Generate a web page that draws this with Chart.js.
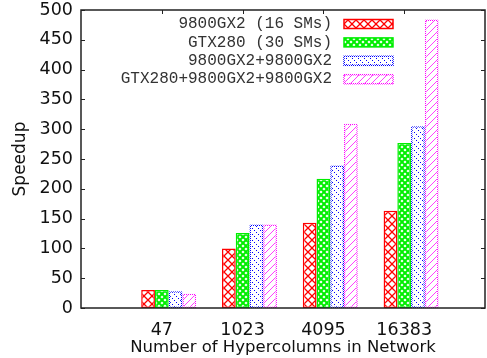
<!DOCTYPE html>
<html>
<head>
<meta charset="utf-8">
<script src="https://cdn.jsdelivr.net/npm/chart.js@4"></script>
<style>
  html, body { margin: 0; padding: 0; background: #fff; }
  canvas { display: block; }
</style>
</head>
<body>
<canvas id="chart" width="487" height="358"></canvas>
<script>
// gnuplot style: an empty slot on each side of the four network sizes
const categories = ['', '47', '1023', '4095', '16383', ''];
const seriesNames = [
    '9800GX2 (16 SMs)',
    'GTX280 (30 SMs)',
    '9800GX2+9800GX2',
    'GTX280+9800GX2+9800GX2'
];
const gx2Single = [null, 30, 100, 143, 163, null];
const gtx280 = [null, 30, 126, 217, 277, null];
const gx2Pair = [null, 28, 140, 239, 305, null];
const allThree = [null, 24, 140, 309, 484, null];

function makePattern(size, draw) {
    const c = document.createElement('canvas');
    c.width = size;
    c.height = size;
    const g = c.getContext('2d');
    draw(g, size);
    return g.createPattern(c, 'repeat');
}

const redHatch = makePattern(8, (g, s) => {
    g.fillStyle = '#fff';
    g.fillRect(0, 0, s, s);
    g.strokeStyle = '#ff0000';
    g.lineWidth = 1.3;
    g.beginPath();
    g.moveTo(0, 0); g.lineTo(s, s);
    g.moveTo(s, 0); g.lineTo(0, s);
    g.stroke();
});
const greenHatch = makePattern(6, (g, s) => {
    g.fillStyle = '#fff';
    g.fillRect(0, 0, s, s);
    g.strokeStyle = '#00ee00';
    g.lineWidth = 2;
    g.beginPath();
    g.moveTo(0, 0); g.lineTo(s, s);
    g.moveTo(s, 0); g.lineTo(0, s);
    g.stroke();
    g.fillStyle = '#00ee00';
    g.fillRect(0, 0, 1, 1);
});
const blueHatch = makePattern(6, (g, s) => {
    g.fillStyle = '#fff';
    g.fillRect(0, 0, s, s);
    g.fillStyle = '#0000ff';
    for (let i = 0; i < s; i += 2) g.fillRect(i, i, 1, 1);
});
const magentaHatch = makePattern(7, (g, s) => {
    g.fillStyle = '#fff';
    g.fillRect(0, 0, s, s);
    g.strokeStyle = 'rgba(255, 0, 255, 0.75)';
    g.lineWidth = 1;
    g.beginPath();
    g.moveTo(0, s); g.lineTo(s, 0);
    g.stroke();
});
const dotted = color => makePattern(2, (g) => {
    g.fillStyle = color;
    g.fillRect(0, 0, 1, 1);
    g.fillRect(1, 1, 1, 1);
});

const styles = [
    { fill: redHatch, border: '#ff0000', width: 1.5 },
    { fill: greenHatch, border: '#00ee00', width: 1.5 },
    { fill: blueHatch, border: dotted('#0000ff'), width: 1.5 },
    { fill: magentaHatch, border: dotted('#ff00ff'), width: 1.5 }
];
const seriesValues = [gx2Single, gtx280, gx2Pair, allThree];

// first dataset is an empty spacer, as gnuplot leaves a gap before each cluster
const datasets = [{ label: '', data: categories.map(() => null) }].concat(
    seriesValues.map((values, i) => ({
        label: seriesNames[i],
        data: values,
        backgroundColor: styles[i].fill,
        borderColor: styles[i].border,
        borderWidth: styles[i].width,
        borderSkipped: false
    }))
);

const framePlugin = {
    id: 'frame',
    beforeDatasetsDraw(chart) {
        const { ctx, chartArea: a, scales } = chart;
        ctx.save();
        ctx.strokeStyle = '#222';
        ctx.lineWidth = 1;
        ctx.beginPath();
        scales.y.ticks.forEach(t => {
            const y = Math.round(scales.y.getPixelForValue(t.value)) + 0.5;
            ctx.moveTo(a.left, y); ctx.lineTo(a.left + 4, y);
            ctx.moveTo(a.right, y); ctx.lineTo(a.right - 4, y);
        });
        categories.forEach((c, i) => {
            if (!c) return;
            const x = Math.round(scales.x.getPixelForValue(i)) + 0.5;
            ctx.moveTo(x, a.top); ctx.lineTo(x, a.top + 4);
            ctx.moveTo(x, a.bottom); ctx.lineTo(x, a.bottom - 4);
        });
        ctx.stroke();
        ctx.restore();
    },
    afterDraw(chart) {
        const { ctx, chartArea: a } = chart;
        ctx.save();
        ctx.strokeStyle = '#222';
        ctx.lineWidth = 1.5;
        ctx.strokeRect(a.left, a.top, a.right - a.left, a.bottom - a.top);

        // key in the top right corner, text left of the sample
        ctx.font = '16px "Liberation Mono", monospace';
        ctx.textAlign = 'right';
        ctx.textBaseline = 'middle';
        seriesNames.forEach((name, i) => {
            const y = a.top + 14 + i * 18.4;
            ctx.fillStyle = '#333';
            ctx.fillText(name, 332, y);
            ctx.fillStyle = styles[i].fill;
            ctx.fillRect(344, y - 4.5, 49, 9);
            ctx.strokeStyle = styles[i].border;
            ctx.lineWidth = styles[i].width;
            ctx.strokeRect(344, y - 4.5, 49, 9);
        });
        ctx.restore();
    }
};

const axisFont = { family: '"DejaVu Sans", sans-serif', size: 17.5 };

new Chart(document.getElementById('chart'), {
    type: 'bar',
    data: {
        labels: categories,
        datasets: datasets
    },
    options: {
        responsive: false,
        animation: false,
        events: [],
        layout: { padding: { top: 10, right: 2, left: 0, bottom: 0 } },
        datasets: {
            bar: { categoryPercentage: 0.85, barPercentage: 1 }
        },
        plugins: {
            legend: { display: false },
            tooltip: { enabled: false }
        },
        scales: {
            x: {
                offset: false,
                grid: { display: false, drawTicks: false },
                border: { display: false },
                ticks: { color: '#111', font: axisFont, padding: 12, maxRotation: 0, autoSkip: false },
                title: {
                    display: true,
                    text: 'Number of Hypercolumns in Network',
                    color: '#111',
                    font: { family: '"DejaVu Sans", sans-serif', size: 16.5 },
                    padding: { top: -2, bottom: 0 }
                },
                afterFit(scale) {
                    scale.height = 50;
                    scale.paddingLeft = 0;
                    scale.paddingRight = 0;
                }
            },
            y: {
                min: 0,
                max: 500,
                grid: { display: false, drawTicks: false },
                border: { display: false },
                ticks: { stepSize: 50, color: '#111', font: axisFont, padding: 8 },
                title: {
                    display: true,
                    text: 'Speedup',
                    color: '#111',
                    font: { family: '"DejaVu Sans", sans-serif', size: 17 },
                    padding: { top: 10, bottom: 0 }
                },
                afterFit(scale) {
                    scale.width = 81;
                    scale.paddingTop = 0;
                    scale.paddingBottom = 0;
                }
            }
        }
    },
    plugins: [framePlugin]
});
</script>
</body>
</html>
